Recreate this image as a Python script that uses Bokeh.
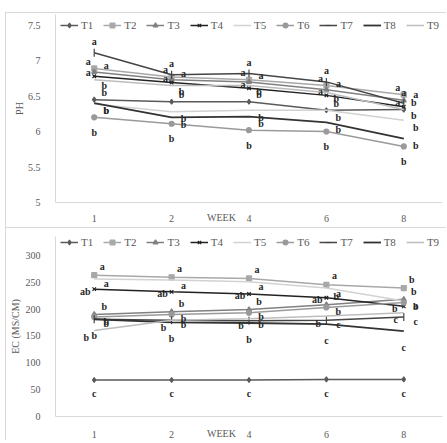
from bokeh.plotting import figure
from bokeh.models import FactorRange, Range1d, FixedTicker, Legend, LegendItem
from bokeh.layouts import column
from bokeh.embed import file_html
from bokeh.resources import INLINE
from bokeh.core.properties import value

# ---------------- data ----------------
weeks = ["1", "2", "4", "6", "8"]
series_names = ["T1", "T2", "T3", "T4", "T5", "T6", "T7", "T8", "T9"]

ph_T1 = [6.45, 6.42, 6.42, 6.30, 6.31]
ph_T2 = [6.89, 6.77, 6.73, 6.65, 6.52]
ph_T3 = [6.84, 6.73, 6.70, 6.59, 6.44]
ph_T4 = [6.78, 6.69, 6.61, 6.51, 6.35]
ph_T5 = [6.39, 6.28, 6.30, 6.30, 6.16]
ph_T6 = [6.20, 6.11, 6.02, 6.00, 5.79]
ph_T7 = [7.11, 6.80, 6.82, 6.70, 6.40]
ph_T8 = [6.40, 6.20, 6.21, 6.13, 5.90]
ph_T9 = [6.73, 6.65, 6.65, 6.55, 6.31]

ph_let_T1 = ["b", "b", "b", "b", "b"]
ph_let_T2 = ["a", "a", "a", "a", "a"]
ph_let_T3 = ["a", "a", "a", "a", "a"]
ph_let_T4 = ["a", "a", "a", "a", "a"]
ph_let_T5 = ["b", "b", "b", "b", "b"]
ph_let_T6 = ["b", "b", "b", "b", "b"]
ph_let_T7 = ["a", "a", "a", "a", "a"]
ph_let_T8 = ["b", "b", "b", "b", "b"]
ph_let_T9 = ["b", "b", "b", "b", "b"]

ec_T1 = [68, 68, 68, 69, 69]
ec_T2 = [263, 259, 257, 245, 239]
ec_T3 = [190, 195, 199, 208, 218]
ec_T4 = [237, 232, 228, 221, 205]
ec_T5 = [256, 254, 251, 239, 215]
ec_T6 = [185, 190, 193, 203, 212]
ec_T7 = [181, 179, 178, 179, 185]
ec_T8 = [181, 175, 174, 172, 159]
ec_T9 = [160, 179, 182, 187, 193]

ec_let_T1 = ["c", "c", "c", "c", "c"]
ec_let_T2 = ["a", "a", "a", "a", "b"]
ec_let_T3 = ["b", "b", "b", "b", "b"]
ec_let_T4 = ["ab", "ab", "ab", "ab", "b"]
ec_let_T5 = ["a", "a", "a", "a", "a"]
ec_let_T6 = ["b", "b", "b", "b", "b"]
ec_let_T7 = ["b", "b", "b", "c", "c"]
ec_let_T8 = ["b", "b", "b", "c", "c"]
ec_let_T9 = ["b", "b", "b", "b", "c"]

ph_ticks = [5, 5.5, 6, 6.5, 7, 7.5]
ec_ticks = [0, 50, 100, 150, 200, 250, 300]
week_axis_title = "WEEK"

# ---------------- styles ----------------
SERIF = "Liberation Serif"
colors = ["#5a5a5a", "#a8a8a8", "#808080", "#222222", "#d2d2d2",
          "#9a9a9a", "#454545", "#333333", "#bdbdbd"]
markers = ["diamond", "square", "triangle", "x", None, "circle", "dash", None, None]
widths = [1.5, 1.5, 1.5, 1.5, 1.5, 1.5, 1.5, 1.8, 1.5]
ph_offsets = [(10, -7), (-6, -7), (12, -6), (-6, -4), (12, 7), (0, 15), (0, -11), (12, 7), (10, 6)]
ec_offsets = [(0, 14), (8, -9), (10, -8), (-9, 2), (12, 5), (12, 4), (12, 4), (0, 16), (-8, 7)]
FRAME_CSS = {"border-top": "1px solid #d9d9d9", "border-left": "1px solid #d9d9d9"}


def make_panel(vals, lets, offsets, y_start, y_end, ticks, ylabel, height,
               top, bottom, legend_y, x_standoff, y_label_standoff, margin):
    p = figure(x_range=FactorRange(*weeks), y_range=Range1d(y_start, y_end),
               width=441, height=height, min_border_left=47, min_border_right=5,
               min_border_top=top, min_border_bottom=bottom, margin=margin,
               output_backend="svg", toolbar_location=None)
    p.styles = FRAME_CSS
    p.outline_line_color = None
    p.xgrid.visible = False
    p.ygrid.visible = False
    p.background_fill_color = "white"
    p.border_fill_color = "white"

    items = []
    for i, name in enumerate(series_names):
        r_line = p.line(weeks, vals[i], line_color=colors[i], line_width=widths[i])
        rends = [r_line]
        if markers[i] is not None:
            kw = {}
            if markers[i] == "dash":
                kw["angle"] = 1.5708
            r_m = p.scatter(weeks, vals[i], marker=markers[i],
                            size=5 if markers[i] != "dash" else 8,
                            line_color=colors[i], fill_color=colors[i], line_width=1.2, **kw)
            rends.append(r_m)
        items.append(LegendItem(label=name, renderers=rends))

    for i, name in enumerate(series_names):
        dx, dy = offsets[i]
        p.text(weeks, vals[i], text=lets[i], x_offset=dx, y_offset=dy,
               text_font=value(SERIF), text_font_style="bold", text_font_size="10px",
               text_align="center", text_baseline="middle", text_color="#262626")

    legend = Legend(items=items, orientation="horizontal", location=(5, legend_y))
    legend.label_text_font = SERIF
    legend.label_text_font_size = "11px"
    legend.label_text_color = "#595959"
    legend.glyph_width = 18
    legend.glyph_height = 12
    legend.label_height = 12
    legend.label_width = 12
    legend.label_standoff = 3
    legend.spacing = 10
    legend.padding = 0
    legend.margin = 0
    legend.border_line_color = None
    legend.background_fill_alpha = 0
    p.add_layout(legend, "center")

    for ax in (p.xaxis[0], p.yaxis[0]):
        ax.axis_line_color = "#d9d9d9"
        ax.major_tick_line_color = None
        ax.minor_tick_line_color = None
        ax.major_label_text_font = SERIF
        ax.major_label_text_font_size = "10px"
        ax.major_label_text_color = "#595959"
        ax.major_label_standoff = 9
    p.yaxis[0].ticker = FixedTicker(ticks=ticks)
    p.yaxis[0].axis_label = ylabel
    p.yaxis[0].axis_label_text_font = SERIF
    p.yaxis[0].axis_label_text_font_size = "10px"
    p.yaxis[0].axis_label_text_font_style = "normal"
    p.yaxis[0].axis_label_text_color = "#595959"
    p.yaxis[0].axis_label_standoff = y_label_standoff
    xa = p.xaxis[0]
    xa.major_label_standoff = x_standoff
    # axis title sits in the tick row, just left of week 4 (padded to shift it left)
    xa.axis_label = week_axis_title + "\u00a0" * 22
    xa.axis_label_text_font = SERIF
    xa.axis_label_text_font_size = "10px"
    xa.axis_label_text_font_style = "normal"
    xa.axis_label_text_color = "#595959"
    xa.axis_label_standoff = -13
    return p


ph_vals = [ph_T1, ph_T2, ph_T3, ph_T4, ph_T5, ph_T6, ph_T7, ph_T8, ph_T9]
ph_lets = [ph_let_T1, ph_let_T2, ph_let_T3, ph_let_T4, ph_let_T5, ph_let_T6,
           ph_let_T7, ph_let_T8, ph_let_T9]
ec_vals = [ec_T1, ec_T2, ec_T3, ec_T4, ec_T5, ec_T6, ec_T7, ec_T8, ec_T9]
ec_lets = [ec_let_T1, ec_let_T2, ec_let_T3, ec_let_T4, ec_let_T5, ec_let_T6,
           ec_let_T7, ec_let_T8, ec_let_T9]

p1 = make_panel(ph_vals, ph_lets, ph_offsets, 5, 7.65, ph_ticks, "PH", 215,
                1, 26, 171, 6, 0, (12, 0, 0, 5))
p2 = make_panel(ec_vals, ec_lets, ec_offsets, 0, 335, ec_ticks, "EC (MS/CM)", 213,
                8, 23, 168, 8, 2, (0, 0, 0, 5))

layout = column(p1, p2, spacing=0)
open("out.html", "w").write(file_html(layout, INLINE))
